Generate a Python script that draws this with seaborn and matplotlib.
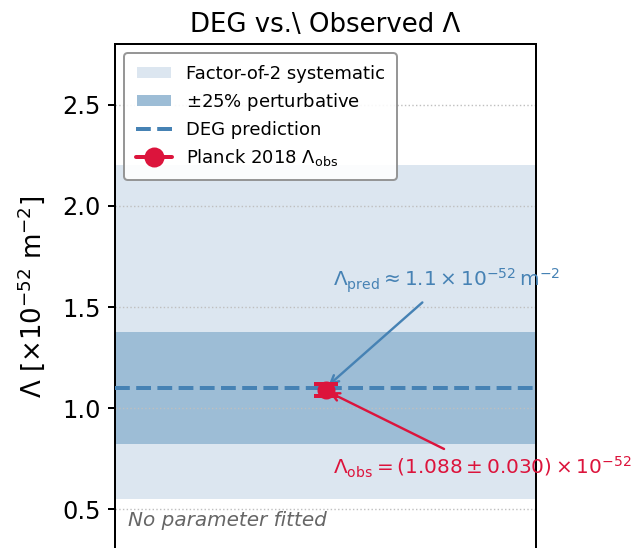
import matplotlib
matplotlib.use("Agg")
import matplotlib.pyplot as plt
from matplotlib.lines import Line2D
from matplotlib.patches import Patch
import seaborn as sns

# Values (units of 1e-52 m^-2)
lambda_pred = 1.1
lambda_obs = [1.088]
lambda_obs_err = [0.030]
obs_x = [0.0]
sys_factor = 2.0        # factor-of-2 systematic band
pert_frac = 0.25        # +-25% perturbative band
y_ticks = [0.5, 1.0, 1.5, 2.0, 2.5]

sns.set_theme(style="ticks", rc={
    "axes.edgecolor": "black",
    "axes.linewidth": 1.0,
    "xtick.color": "black",
    "ytick.color": "black",
    "text.color": "black",
    "axes.labelcolor": "black",
    "axes.axisbelow": "line",
})
plt.rcParams["font.family"] = ["DejaVu Sans"]

c_light = "#dce6f0"
c_dark = "#9dbdd6"
c_blue = "steelblue"
c_red = "crimson"

fig = plt.figure(figsize=(638 / 144, 548 / 144), dpi=144)
ax = fig.add_axes([115 / 638, -1.8 / 548, 421 / 638, (548 - 44 + 1.8) / 548])

ax.axhspan(lambda_pred / sys_factor, lambda_pred * sys_factor, color=c_light, lw=0, zorder=0.2)
ax.axhspan(lambda_pred * (1 - pert_frac), lambda_pred * (1 + pert_frac), color=c_dark, lw=0, zorder=0.3)
ax.axhline(lambda_pred, color=c_blue, ls="--", lw=2, zorder=3)
ax.errorbar(obs_x, lambda_obs, yerr=lambda_obs_err, fmt="o", color=c_red,
            ms=8, elinewidth=2, capsize=6, capthick=2, zorder=5)

ax.annotate(r"$\Lambda_{\rm pred} \approx 1.1 \times 10^{-52}\,\mathrm{m}^{-2}$",
            xy=(obs_x[0], lambda_pred), xytext=(0.035, 1.6), fontsize=10,
            color=c_blue, ha="left", va="baseline", annotation_clip=False,
            arrowprops=dict(arrowstyle="->", color=c_blue, lw=1.2))
ax.annotate(r"$\Lambda_{\rm obs} = (1.088 \pm 0.030) \times 10^{-52}$",
            xy=(obs_x[0], lambda_obs[0]), xytext=(0.035, 0.67), fontsize=10,
            color=c_red, ha="left", va="baseline", annotation_clip=False,
            arrowprops=dict(arrowstyle="->", color=c_red, lw=1.2))

ax.text(0.03, 0.04, "No parameter fitted", transform=ax.transAxes,
        fontsize=10, style="italic", color="0.4", va="bottom", ha="left")

ax.set_xlim(-1, 1)
ax.set_ylim(0.3, 2.8)
ax.set_xticks([])
ax.set_yticks(y_ticks)
ax.tick_params(axis="y", labelsize=12, width=1.0, length=3.5)
ax.yaxis.grid(True, ls=":", color="0.75", lw=0.7)
ax.set_ylabel(r"$\Lambda\ [\times 10^{-52}\ \mathrm{m}^{-2}]$", fontsize=13, labelpad=7.5)
ax.set_title("DEG vs.\\ Observed Λ", fontsize=13)

handles = [
    Patch(facecolor=c_light, label="Factor-of-2 systematic"),
    Patch(facecolor=c_dark, label=r"$\pm$25% perturbative"),
    Line2D([], [], color=c_blue, ls="--", lw=2, label="DEG prediction"),
    Line2D([], [], color=c_red, marker="o", ms=9, lw=2, label=r"Planck 2018 $\Lambda_{\rm obs}$"),
]
leg = ax.legend(handles=handles, loc="upper left", fontsize=9, frameon=True,
                fancybox=True, framealpha=0.9, borderpad=0.65, labelspacing=0.45)
leg.get_frame().set_edgecolor("0.55")
leg.get_frame().set_linewidth(1.0)

fig.savefig("out.png", dpi=144)
